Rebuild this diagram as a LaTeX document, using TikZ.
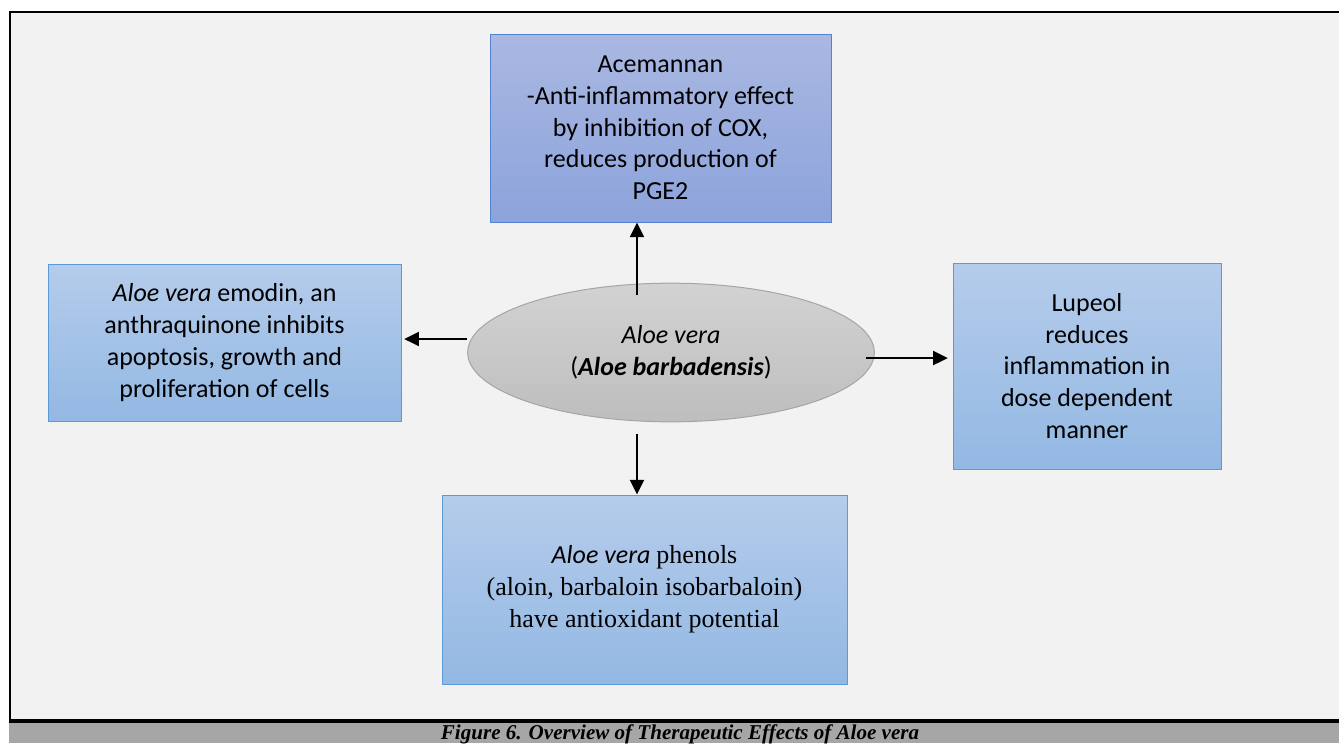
\documentclass[tikz,border=0pt]{standalone}
\usepackage{fontspec}
\setmainfont{Carlito}
\newfontfamily\tnr{Liberation Serif}
\usetikzlibrary{arrows.meta,shapes.geometric}
\definecolor{pagebg}{RGB}{242,242,242}
\definecolor{capbar}{RGB}{166,166,166}
\definecolor{boxline}{RGB}{91,155,213}
\definecolor{boxtop}{RGB}{181,204,235}
\definecolor{boxbot}{RGB}{147,184,227}
\definecolor{acemline}{RGB}{84,130,210}
\definecolor{acemtop}{RGB}{170,184,226}
\definecolor{acembot}{RGB}{140,163,219}
\definecolor{elltop}{RGB}{210,210,210}
\definecolor{ellbot}{RGB}{190,190,190}
\definecolor{ellline}{RGB}{165,165,165}

\begin{document}
\begin{tikzpicture}[x=0.75pt,y=-0.75pt]
\tikzstyle{every node}=[align=center,inner sep=0pt,font=\fontsize{19.5}{23.8}\selectfont];
\tikzstyle{box}=[draw=boxline,line width=0.75pt,top color=boxtop,bottom color=boxbot];
\tikzstyle{acembox}=[draw=acemline,line width=0.75pt,top color=acemtop,bottom color=acembot];
\tikzstyle{arr}=[line width=1.5pt,-{Triangle[length=11pt,width=10.5pt]}];
\useasboundingbox (0,0) rectangle (1339,743);
% page, frame and caption bar
\fill[white] (0,0) rectangle (1339,743);
\fill[pagebg] (9,11) rectangle (1339,723);
\fill[capbar] (9,723) rectangle (1339,743);
\draw[line width=1.5pt] (10,723) -- (10,12) -- (1339,12);
\draw[line width=3pt] (9,721) -- (1339,721);
% nodes
\node[ellipse,draw=ellline,line width=0.75pt,top color=elltop,bottom color=ellbot,minimum width=305pt,minimum height=104pt](aloe) at (671,352.5) {\textit{Aloe vera}\\(\textbf{\textit{Aloe barbadensis}})};
\node[acembox,minimum width=255.75pt,minimum height=141pt](acem) at (660.5,128) {Acemannan\\-Anti-inflammatory effect\\by inhibition of COX,\\reduces production of\\PGE2};
\node[box,minimum width=264.75pt,minimum height=117.75pt](emod) at (224.5,342.5) {\textit{Aloe vera} emodin, an\\anthraquinone inhibits\\apoptosis, growth and\\proliferation of cells};
\node[box,minimum width=201pt,minimum height=154.5pt](lup) at (1087,366) {Lupeol\\reduces\\inflammation in\\dose dependent\\manner};
\node[box,minimum width=303.75pt,minimum height=141.75pt,font=\fontsize{19.5}{24}\selectfont](phen) at (644.5,589.5) {\textit{Aloe vera} {\tnr phenols}\\{\tnr (aloin, barbaloin isobarbaloin)}\\{\tnr have antioxidant potential}};
\node[font=\tnr\bfseries\itshape\fontsize{15.8}{17}\selectfont,anchor=base](cap) at (680,739) {Figure 6. Overview of Therapeutic Effects of Aloe vera};
% arrows
\coordinate (pu) at (637,295);
\coordinate (pl) at (467,339);
\coordinate (pr) at (866,358);
\coordinate (pd) at (637,434);
\draw[arr] (pu) -- (pu |- acem.south);
\draw[arr,shorten >=2pt] (pl) -- (pl -| emod.east);
\draw[arr,shorten >=3.5pt] (pr) -- (pr -| lup.west);
\draw[arr] (pd) -- (pd |- phen.north);
\end{tikzpicture}
\end{document}
